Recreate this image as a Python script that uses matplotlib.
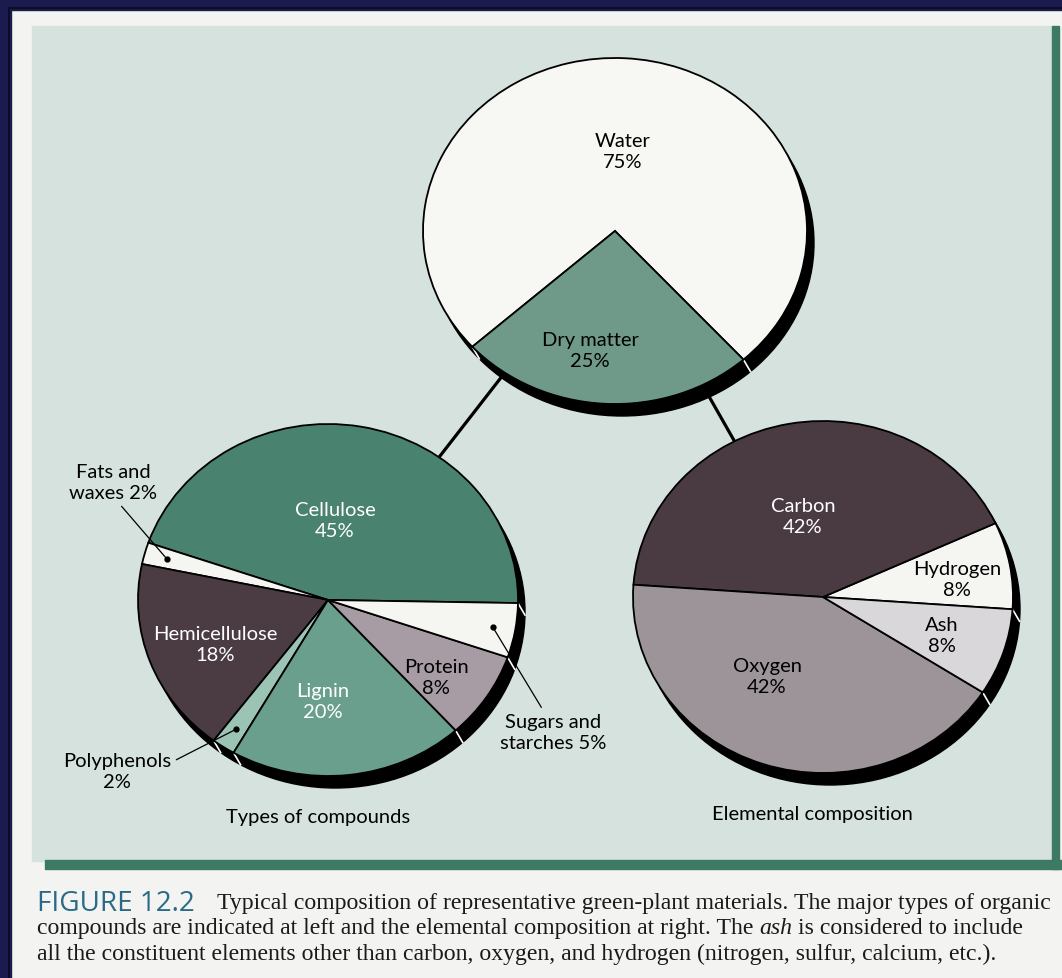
import numpy as np
import matplotlib
matplotlib.use('Agg')
from matplotlib import pyplot as plt
from matplotlib.patches import Rectangle, Ellipse

# ---- data ----
top_names = ['Water', 'Dry matter']
top_values = [75, 25]
top_colors = ['#f7f7f4', '#6f9a8a']

cmp_names = ['Cellulose', 'Fats and waxes', 'Hemicellulose', 'Polyphenols',
             'Lignin', 'Protein', 'Sugars and starches']
cmp_values = [45, 2, 18, 2, 20, 8, 5]
cmp_colors = ['#4a8270', '#f5f5f2', '#4b3c44', '#9cc4b5', '#6b9f8d', '#a79ca4', '#f5f5f2']

elem_names = ['Hydrogen', 'Carbon', 'Oxygen', 'Ash']
elem_values = [8, 42, 42, 8]
elem_colors = ['#f5f5f2', '#4a3b42', '#9d9499', '#d9d7d9']

caption_lines = [
    'Typical composition of representative green-plant materials. The major types of organic',
    ['compounds are indicated at left and the elemental composition at right. The ',
     'ash', ' is considered to include'],
    'all the constituent elements other than carbon, oxygen, and hydrogen '
    '(nitrogen, sulfur, calcium, etc.).',
]

W, H = 1062, 979
fig = plt.figure(figsize=(W / 100, H / 100), dpi=100)
fig.patch.set_facecolor('#f3f3f1')

bg = fig.add_axes([0, 0, 1, 1])
bg.set_xlim(0, W)
bg.set_ylim(H, 0)   # image coordinates, y down
bg.axis('off')

# page / scan decoration
bg.add_patch(Rectangle((32, 27), 1020, 835, color='#d5e2de', zorder=0))
bg.add_patch(Rectangle((1052, 27), 7, 843, color='#3d7a63', zorder=0))
bg.add_patch(Rectangle((45, 861), 1017, 9, color='#3d7a63', zorder=0))
bg.add_patch(Rectangle((0, 0), W, 11, color='#1b1b50', zorder=0))
bg.add_patch(Rectangle((0, 0), 11, H, color='#1b1b50', zorder=0))
bg.plot([9, 9, W], [H, 9, 9], color='#0c0c25', lw=1.5, zorder=0)

lab_font = 'Lato'
fs = 14.5
ls = 1.35


def txt(x, y, s, color='black', size=fs, **kw):
    return fig.text(x, y, s, transform=bg.transData, ha='center', va='center',
                    color=color, fontsize=size, family=lab_font, linespacing=ls, **kw)


def draw_pie(center, rx, ry, values, colors, start):
    cx, cy = center
    a = fig.add_axes([(cx - rx) / W, (H - cy - ry) / H, 2 * rx / W, 2 * ry / H])
    a.patch.set_visible(False)
    dx, dy = 7 / rx, -12 / ry
    # dark side of the disc
    a.add_patch(Ellipse((dx, dy), 2, 2, color='black', zorder=0.5, clip_on=False))
    wedges, _ = a.pie(values, colors=colors, startangle=start, counterclock=True,
                      wedgeprops=dict(edgecolor='black', linewidth=1.3))
    a.set_aspect('auto')
    a.set_xlim(-1, 1)
    a.set_ylim(-1, 1)
    a.axis('off')
    for w in wedges:
        w.set_clip_on(False)
        t = np.radians(w.theta1)
        if np.cos(t) * dx + np.sin(t) * dy > 0.01:
            a.plot([np.cos(t), np.cos(t) + dx], [np.sin(t), np.sin(t) + dy],
                   color='white', lw=1.2, zorder=0.8, clip_on=False)
    return a, wedges


def leader(a, w, s, xy_text, relpos, r=0.88):
    t = np.radians((w.theta1 + w.theta2) / 2)
    p = (r * np.cos(t), r * np.sin(t))
    a.plot(*p, 'o', color='black', ms=3.5, clip_on=False, zorder=3)
    a.annotate(s, xy=p, xycoords='data', xytext=xy_text, textcoords=bg.transData,
               ha='center', va='center', fontsize=fs, family=lab_font, linespacing=ls,
               annotation_clip=False,
               arrowprops=dict(arrowstyle='-', color='black', lw=0.9, relpos=relpos,
                               shrinkA=2, shrinkB=0))


top_c = (615, 232)
cmp_c = (328, 601)
elem_c = (823, 598)

# connectors between the pies (hidden under the discs)
for c in (cmp_c, elem_c):
    bg.plot([top_c[0], c[0]], [top_c[1], c[1]], color='black', lw=2.3, zorder=1)

a_top, w_top = draw_pie(top_c, 192, 173, top_values, top_colors, 312)
a_cmp, w_cmp = draw_pie(cmp_c, 190, 176, cmp_values, cmp_colors, -1)
a_elem, w_elem = draw_pie(elem_c, 190, 176, elem_values, elem_colors, -4)

# labels, top pie
txt(623, 152, f'{top_names[0]}\n{top_values[0]}%')
txt(590, 351, f'{top_names[1]}\n{top_values[1]}%')

# labels, types of compounds
txt(335, 521, f'{cmp_names[0]}\n{cmp_values[0]}%', color='white')
txt(215, 645, f'{cmp_names[2]}\n{cmp_values[2]}%', color='white')
txt(323, 702, f'{cmp_names[4]}\n{cmp_values[4]}%', color='white')
txt(436, 678, f'{cmp_names[5]}\n{cmp_values[5]}%')
leader(a_cmp, w_cmp[1], f'Fats and\nwaxes {cmp_values[1]}%', (113, 483), (0.55, 0))
leader(a_cmp, w_cmp[3], f'{cmp_names[3]}\n{cmp_values[3]}%', (117, 772), (1.0, 0.72))
leader(a_cmp, w_cmp[6], f'Sugars and\nstarches {cmp_values[6]}%', (553, 733), (0.42, 1.0))

# labels, elemental composition
txt(803, 517, f'{elem_names[1]}\n{elem_values[1]}%', color='white')
txt(957, 580, f'{elem_names[0]}\n{elem_values[0]}%')
txt(942, 636, f'{elem_names[3]}\n{elem_values[3]}%')
txt(767, 677, f'{elem_names[2]}\n{elem_values[2]}%')

txt(318, 818, 'Types of compounds')
txt(812, 815, 'Elemental composition')

# ---- caption ----
r = fig.canvas.get_renderer()
cap_font = 'Liberation Serif'
cap_kw = dict(transform=bg.transData, va='center', family=cap_font, color='#1a1a1a')


def caption(size):
    arts = []
    t1 = fig.text(217, 904, caption_lines[0], fontsize=size, **cap_kw)
    arts.append(t1)
    x = 37
    for part, style in zip(caption_lines[1], ['normal', 'italic', 'normal']):
        t = fig.text(x, 929, part, fontsize=size, style=style, **cap_kw)
        arts.append(t)
        x += t.get_window_extent(r).width
    t3 = fig.text(37, 954, caption_lines[2], fontsize=size, **cap_kw)
    arts.append(t3)
    ends = [t1.get_window_extent(r).x1, x, t3.get_window_extent(r).x1]
    return arts, ends


# fit the caption so that its longest line just reaches the right edge
arts, ends = caption(15)
scale = min((1057 - 217) / (ends[0] - 217),
            (1057 - 37) / (ends[1] - 37),
            (1057 - 37) / (ends[2] - 37))
cs = 15 * scale
for t in arts:
    t.remove()
caption(cs)

fig.text(37, 904, 'FIGURE 12.2', transform=bg.transData, va='center', fontsize=cs * 1.17,
         family='Open Sans', color='#2b6a86')

fig.savefig('out.png', dpi=100, facecolor=fig.get_facecolor())
